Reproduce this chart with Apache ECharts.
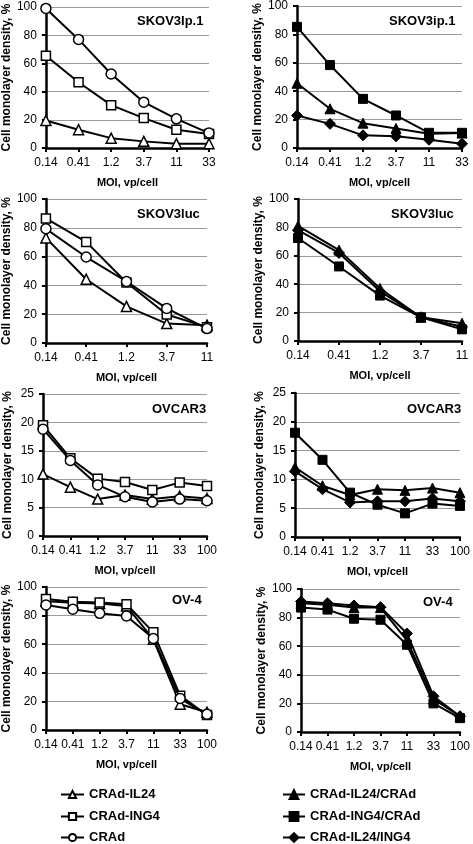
<!DOCTYPE html>
<html>
<head>
<meta charset="utf-8">
<script src="https://cdn.jsdelivr.net/npm/echarts@6/dist/echarts.min.js"></script>
<style>
html,body{margin:0;padding:0;background:#fff;}
#chart{width:473px;height:844px;}
</style>
</head>
<body>
<div id="chart"></div>
<script>
// ---- categories (MOI, vp/cell) ----
const moi6 = ['0.14','0.41','1.2','3.7','11','33'];
const moi5 = ['0.14','0.41','1.2','3.7','11'];
const moi7 = ['0.14','0.41','1.2','3.7','11','33','100'];

// ---- panel titles ----
const panelTitles = ['SKOV3Ip.1','SKOV3ip.1','SKOV3luc','SKOV3luc','OVCAR3','OVCAR3','OV-4','OV-4'];

// ---- series names ----
const namesMono = ['CRAd-IL24','CRAd-ING4','CRAd'];
const namesCombo = ['CRAd-IL24/CRAd','CRAd-ING4/CRAd','CRAd-IL24/ING4'];

// ---- SKOV3ip.1 ----
const ip1_IL24 = [19.5, 13, 7, 4.7, 3.1, 3];
const ip1_ING4 = [65.4, 46.6, 30.4, 21.2, 12.9, 9.9];
const ip1_CRAd = [99, 77, 52.5, 32.5, 20.7, 10.6];
const ip1_IL24_CRAd = [45.6, 27.6, 17.5, 13.8, 10, 10.5];
const ip1_ING4_CRAd = [85.3, 58.4, 34.6, 22.9, 10.7, 10.7];
const ip1_IL24_ING4 = [22.9, 17, 8.9, 8.2, 5.8, 3];

// ---- SKOV3luc ----
const luc_IL24 = [73, 44.3, 25.4, 13.5, 12.4];
const luc_ING4 = [86.5, 70.2, 42, 19.8, 11];
const luc_CRAd = [79.3, 59.7, 42.7, 24, 10];
const luc_IL24_CRAd = [81, 64, 37, 16.7, 12.5];
const luc_ING4_CRAd = [72.5, 52.5, 32, 16.7, 8.2];
const luc_IL24_ING4 = [78, 62, 35, 16.7, 10];

// ---- OVCAR3 ----
const ov3_IL24 = [10.9, 8.6, 6.5, 7.2, 6.5, 7, 6.6];
const ov3_ING4 = [19.5, 13.7, 10.1, 9.5, 8.1, 9.4, 8.8];
const ov3_CRAd = [18.8, 13.3, 9, 6.9, 6, 6.5, 6.2];
const ov3_IL24_CRAd = [12.1, 8.9, 7.3, 8.3, 8.1, 8.5, 7.7];
const ov3_ING4_CRAd = [18.1, 13.4, 7.7, 5.6, 4.1, 5.8, 5.4];
const ov3_IL24_ING4 = [11.4, 8.3, 6, 6.2, 6.2, 6.7, 6.2];

// ---- OV-4 ----
const ov4_IL24 = [90, 89, 88.5, 86.7, 63.4, 18, 12.4];
const ov4_ING4 = [91.6, 89.7, 89.2, 87.9, 68.3, 24, 10.5];
const ov4_CRAd = [87.4, 84.4, 81.6, 79.7, 64, 22, 11];
const ov4_IL24_CRAd = [90, 89, 87, 87, 64, 23, 11];
const ov4_ING4_CRAd = [87, 85.6, 79.2, 78.5, 61, 20, 9.7];
const ov4_IL24_ING4 = [91.3, 90.1, 88.5, 87.3, 68.9, 25, 11];

// ---- y-axis ranges ----
const yMax = [100,100,100,100,25,25,100,100];
const yStep = [20,20,20,20,5,5,20,20];

const FONT = 'Liberation Sans, Arial, sans-serif';

const panels = [
  {cats: moi6, data: [ip1_IL24, ip1_ING4, ip1_CRAd], names: namesMono, filled:false},
  {cats: moi6, data: [ip1_IL24_CRAd, ip1_ING4_CRAd, ip1_IL24_ING4], names: namesCombo, filled:true},
  {cats: moi5, data: [luc_IL24, luc_ING4, luc_CRAd], names: namesMono, filled:false},
  {cats: moi5, data: [luc_IL24_CRAd, luc_ING4_CRAd, luc_IL24_ING4], names: namesCombo, filled:true},
  {cats: moi7, data: [ov3_IL24, ov3_ING4, ov3_CRAd], names: namesMono, filled:false},
  {cats: moi7, data: [ov3_IL24_CRAd, ov3_ING4_CRAd, ov3_IL24_ING4], names: namesCombo, filled:true},
  {cats: moi7, data: [ov4_IL24, ov4_ING4, ov4_CRAd], names: namesMono, filled:false},
  {cats: moi7, data: [ov4_IL24_CRAd, ov4_ING4_CRAd, ov4_IL24_ING4], names: namesCombo, filled:true}
];

const grids = [
  {left:43, top:7, width:166, height:141},
  {left:297, top:5, width:165, height:143},
  {left:43, top:199, width:164, height:144},
  {left:298, top:199, width:164, height:142},
  {left:43, top:394, width:164, height:142},
  {left:295, top:393, width:167, height:144},
  {left:46, top:587, width:161, height:143},
  {left:301, top:589, width:162, height:143}
];

const titlePos = [
  [137,15],[389,15],[137,208],[391,208],[152,403],[407,403],[172,594],[423,596]
];

const symbolsMono = ['triangle','rect','circle'];
const symbolsCombo = ['triangle','rect','diamond'];
const sizesMono = [10, 9, 10];
const sizesCombo = [10, 9, 11];

const legendRowsY = [788, 810, 831];

const legendStyle = {fontFamily:FONT, fontSize:13, fontWeight:'bold', color:'#000'};
const legends = [];
namesMono.forEach((n,k)=>legends.push({
  data:[n], left:60, top:legendRowsY[k], padding:0, itemWidth:23, itemHeight:9,
  textStyle:legendStyle, selectedMode:false
}));
namesCombo.forEach((n,k)=>legends.push({
  data:[n], left:282, top:legendRowsY[k], padding:0, itemWidth:22, itemHeight:11,
  textStyle:legendStyle, selectedMode:false
}));

const option = {
  backgroundColor:'#fff',
  animation:false,
  grid: grids.map(g => Object.assign({containLabel:false}, g)),
  title: panelTitles.map((t,i)=>({
    text:t, left:titlePos[i][0], top:titlePos[i][1], padding:0,
    textStyle:{fontFamily:FONT, fontSize:13, fontWeight:'bold', color:'#000'}
  })),
  xAxis: panels.map((p,i)=>({
    type:'category', gridIndex:i, data:p.cats, boundaryGap:false,
    name:'MOI, vp/cell', nameLocation:'middle', nameGap:29,
    nameTextStyle:{fontFamily:FONT, fontSize:11, fontWeight:'bold', color:'#000'},
    axisLine:{lineStyle:{color:'#000', width:2.5}},
    axisTick:{show:true, length:4, lineStyle:{color:'#000', width:2}, alignWithLabel:true},
    axisLabel:{interval:0, margin:9, fontFamily:FONT, fontSize:12, color:'#000'},
    splitLine:{show:false}
  })),
  yAxis: panels.map((p,i)=>({
    type:'value', gridIndex:i, min:0, max:yMax[i], interval:yStep[i],
    name:'Cell monolayer density, %', nameLocation:'middle', nameGap:29,
    nameTextStyle:{fontFamily:FONT, fontSize:12, fontWeight:'bold', color:'#000'},
    axisLine:{show:true, lineStyle:{color:'#000', width:2.5}},
    axisTick:{show:true, length:4, lineStyle:{color:'#000', width:2}},
    axisLabel:{margin:9, fontFamily:FONT, fontSize:12, color:'#000'},
    splitLine:{show:true, lineStyle:{color:'#9a9a9a', width:1}}
  })),
  legend: legends,
  series: []
};

panels.forEach((p,i)=>{
  p.data.forEach((vals,k)=>{
    const sym = p.filled ? symbolsCombo[k] : symbolsMono[k];
    const sz = p.filled ? sizesCombo[k] : sizesMono[k];
    option.series.push({
      type:'line', name:p.names[k], xAxisIndex:i, yAxisIndex:i,
      data: vals, symbol: sym, symbolSize: sz, showAllSymbol:true,
      clip:false,
      lineStyle:{color:'#000', width:2},
      itemStyle: p.filled ? {color:'#000', borderColor:'#000', borderWidth:1}
                          : {color:'#fff', borderColor:'#000', borderWidth:1.5},
      emphasis:{disabled:true},
      z: 2 + k
    });
  });
});

const chart = echarts.init(document.getElementById('chart'), null, {renderer:'canvas'});
chart.setOption(option);
</script>
</body>
</html>
